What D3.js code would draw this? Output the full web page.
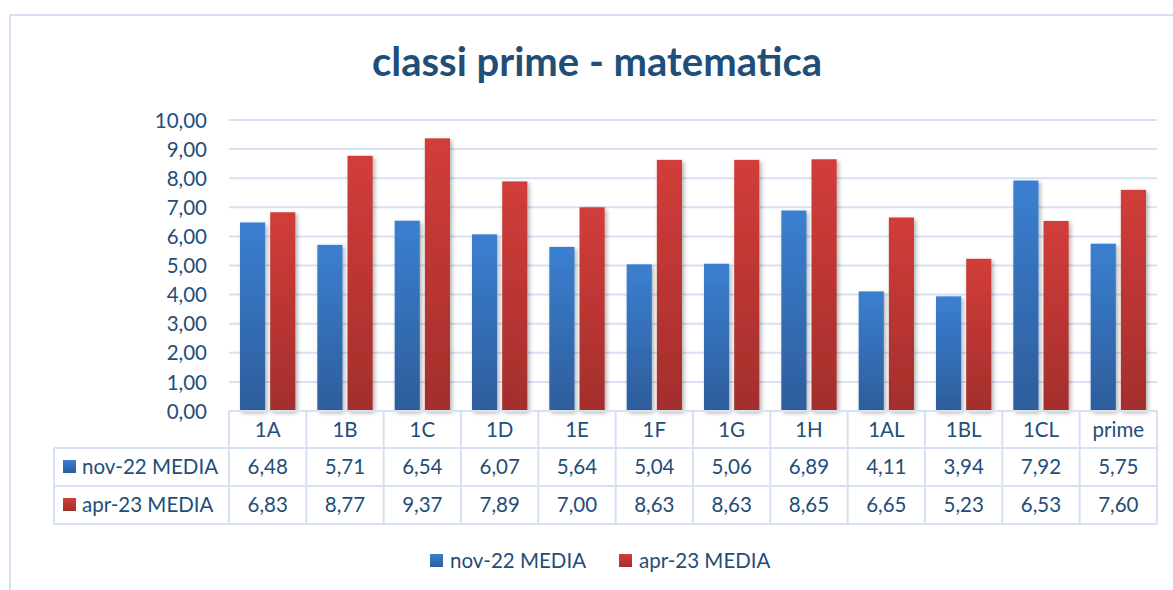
<!DOCTYPE html>
<html>
<head>
<meta charset="utf-8">
<script src="https://cdn.jsdelivr.net/npm/d3@7"></script>
<style>
  body { margin: 0; background: #fff; }
  svg text { font-family: Lato, "Open Sans", sans-serif; fill: #1f4e79; }
</style>
</head>
<body>
<svg id="chart" width="1173" height="590"></svg>
<script>
// data
var categories = ["1A", "1B", "1C", "1D", "1E", "1F", "1G", "1H", "1AL", "1BL", "1CL", "prime"];
var seriesNames = ["nov-22 MEDIA", "apr-23 MEDIA"];
var nov22 = [6.48, 5.71, 6.54, 6.07, 5.64, 5.04, 5.06, 6.89, 4.11, 3.94, 7.92, 5.75];
var apr23 = [6.83, 8.77, 9.37, 7.89, 7.00, 8.63, 8.63, 8.65, 6.65, 5.23, 6.53, 7.60];
var yTicks = [0, 1, 2, 3, 4, 5, 6, 7, 8, 9, 10];

var seriesValues = [nov22, apr23];

var svg = d3.select("#chart");
var gridColor = "#d6e1f3";
var fontSize = "20.5px";

var plot = { left: 229, right: 1157, top: 120, bottom: 411 };
var rowH = [37, 38, 38];
var tableLeft = 54;

var fmt = function(v) { return d3.format(".2f")(v).replace(".", ","); };

// gradients + shadow
var defs = svg.append("defs");
var grads = [["gBlue", "#3b7fd1", "#2d5d9b"], ["gRed", "#d23d3a", "#a32e2c"]];
grads.forEach(function(g) {
    var lg = defs.append("linearGradient").attr("id", g[0])
        .attr("x1", 0).attr("y1", 0).attr("x2", 0).attr("y2", 1);
    lg.append("stop").attr("offset", "0%").attr("stop-color", g[1]);
    lg.append("stop").attr("offset", "100%").attr("stop-color", g[2]);
});
defs.append("filter").attr("id", "shadow")
    .attr("x", "-30%").attr("y", "-10%").attr("width", "170%").attr("height", "130%")
    .append("feDropShadow")
    .attr("dx", 2).attr("dy", 2).attr("stdDeviation", 2.2)
    .attr("flood-color", "#000").attr("flood-opacity", 0.3);

// outer chart border
svg.append("rect")
    .attr("x", 10).attr("y", 15)
    .attr("width", 1200).attr("height", 640)
    .attr("fill", "none").attr("stroke", gridColor).attr("stroke-width", 2);

// title
svg.append("text")
    .attr("x", 597).attr("y", 76)
    .attr("text-anchor", "middle")
    .style("font-size", "40px").style("font-weight", "bold")
    .text("classi prime - matematica");

// scales
var x0 = d3.scaleBand().domain(categories).range([plot.left, plot.right]).padding(0);
var x1 = d3.scaleBand().domain(seriesNames)
    .range([11, x0.bandwidth() - 11]).paddingInner(0.1667).paddingOuter(0);
var y = d3.scaleLinear().domain([0, 10]).range([plot.bottom, plot.top]);

// gridlines
svg.append("g").selectAll("line")
    .data(yTicks.slice(1))
    .enter().append("line")
    .attr("x1", plot.left).attr("x2", plot.right)
    .attr("y1", function(d) { return y(d); })
    .attr("y2", function(d) { return y(d); })
    .attr("stroke", gridColor).attr("stroke-width", 2);

// y axis labels
var yAxis = svg.append("g")
    .attr("transform", "translate(" + (plot.left - 22) + ",0)")
    .call(d3.axisLeft(y).tickValues(yTicks).tickFormat(fmt).tickSize(0).tickPadding(0));
yAxis.select(".domain").remove();
yAxis.selectAll("text")
    .style("font-size", fontSize).attr("fill", "#1f4e79").attr("dy", "0.35em");

// bars
var groups = svg.append("g").selectAll("g")
    .data(categories)
    .enter().append("g")
    .attr("transform", function(d) { return "translate(" + x0(d) + ",0)"; });

groups.selectAll("rect")
    .data(function(d, i) {
        return seriesNames.map(function(s, j) { return { s: s, v: seriesValues[j][i], j: j }; });
    })
    .enter().append("rect")
    .attr("x", function(d) { return x1(d.s); })
    .attr("width", x1.bandwidth())
    .attr("y", function(d) { return y(d.v); })
    .attr("height", function(d) { return y(0) - y(d.v); })
    .attr("fill", function(d) { return d.j === 0 ? "url(#gBlue)" : "url(#gRed)"; })
    .attr("filter", "url(#shadow)");

// data table
var rowY = [plot.bottom, plot.bottom + rowH[0], plot.bottom + rowH[0] + rowH[1], plot.bottom + rowH[0] + rowH[1] + rowH[2]];
var table = svg.append("g");
var lineAttr = function(sel) { return sel.attr("stroke", gridColor).attr("stroke-width", 2).attr("fill", "none"); };

// horizontal lines
table.append("line").call(lineAttr)
    .attr("x1", plot.left).attr("x2", plot.right).attr("y1", rowY[0]).attr("y2", rowY[0]);
[1, 2, 3].forEach(function(r) {
    table.append("line").call(lineAttr)
        .attr("x1", tableLeft).attr("x2", plot.right).attr("y1", rowY[r]).attr("y2", rowY[r]);
});
// vertical lines
table.append("line").call(lineAttr)
    .attr("x1", tableLeft).attr("x2", tableLeft).attr("y1", rowY[1]).attr("y2", rowY[3]);
categories.concat([null]).forEach(function(c, i) {
    var xx = i < categories.length ? x0(c) : plot.right;
    table.append("line").call(lineAttr)
        .attr("x1", xx).attr("x2", xx).attr("y1", rowY[0]).attr("y2", rowY[3]);
});

// header labels
table.selectAll(".cat").data(categories).enter().append("text")
    .attr("class", "cat")
    .attr("x", function(d) { return x0(d) + x0.bandwidth() / 2; })
    .attr("y", (rowY[0] + rowY[1]) / 2)
    .attr("dy", "0.35em").attr("text-anchor", "middle")
    .style("font-size", fontSize)
    .text(function(d) { return d; });

// value rows
seriesNames.forEach(function(s, j) {
    var cy = (rowY[j + 1] + rowY[j + 2]) / 2;
    table.append("rect")
        .attr("x", tableLeft + 9).attr("y", cy - 7).attr("width", 13).attr("height", 13)
        .attr("fill", j === 0 ? "url(#gBlue)" : "url(#gRed)");
    table.append("text")
        .attr("x", tableLeft + 28).attr("y", cy).attr("dy", "0.35em")
        .style("font-size", fontSize).text(s);
    table.selectAll(".v" + j).data(seriesValues[j]).enter().append("text")
        .attr("class", "v" + j)
        .attr("x", function(d, i) { return x0(categories[i]) + x0.bandwidth() / 2; })
        .attr("y", cy).attr("dy", "0.35em").attr("text-anchor", "middle")
        .style("font-size", fontSize)
        .text(function(d) { return fmt(d); });
});

// legend
var legend = svg.append("g");
var legX = [430, 619];
seriesNames.forEach(function(s, j) {
    legend.append("rect")
        .attr("x", legX[j]).attr("y", 554).attr("width", 13).attr("height", 13)
        .attr("fill", j === 0 ? "url(#gBlue)" : "url(#gRed)");
    legend.append("text")
        .attr("x", legX[j] + 20).attr("y", 561).attr("dy", "0.35em")
        .style("font-size", fontSize).text(s);
});
</script>
</body>
</html>
